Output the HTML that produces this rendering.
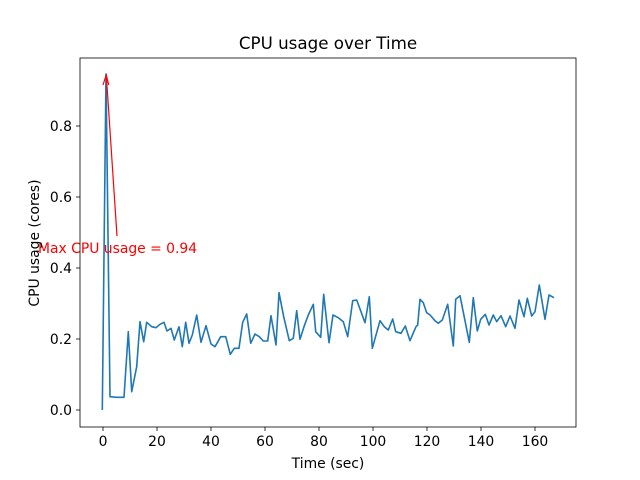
<!DOCTYPE html>
<html><head><meta charset="utf-8"><style>body{margin:0;background:#fff}svg{display:block}</style></head><body>
<svg width="640" height="480" xmlns="http://www.w3.org/2000/svg" font-family="DejaVu Sans, Liberation Sans, sans-serif">
<rect width="640" height="480" fill="#fff"/>
<polyline fill="none" stroke="#1f77b4" stroke-width="1.6" stroke-linejoin="round" points="102.3,410 106,74 110,396.7 116.7,397.3 124,397.3 128.3,331.7 131.7,391.7 136.7,366.7 140,321.7 143.7,341.7 146.7,322.3 151.7,326.7 156,327.7 160,324.3 164,322.3 167,331 171,328.3 174.3,340 179,326.7 182.3,346.7 185.7,322.3 189,343.3 192.3,335 196.7,315 201,342.3 206,325.7 211,344 215,346.7 220.7,336.7 225.7,336.7 230.3,354.3 234.3,348.3 239,348.3 242.7,322.3 246.7,314 250.7,343.3 255,334 259.3,336.7 263.3,341 267.7,341 271,315.7 276,345 279,292.7 283.7,316.7 289.3,340.7 293.3,338.3 296.7,310.7 300,339.3 304,326.7 308.3,315 313.3,304.3 315.7,331.7 320.7,337.3 323.7,294.3 329,342.7 333,315 338.3,317.7 343.3,321.7 347.7,336.7 352.7,300.7 356.7,300 361,311.7 365,322.7 369.3,296.7 372.3,348.3 380,320.7 384.3,326.7 388.3,330 392.7,319 395.7,331.7 401,333.3 405.3,326 410,340.7 416,326.7 417.7,325 420,299.3 423.3,302.7 426.7,312.7 430,315 435,320.7 438.3,323.3 442.3,320 447.7,304.3 453.3,346 455.7,299.3 460,295.7 469.3,342.3 473.3,297.7 477.3,331 480.7,319.3 485.3,314.3 489,325 493.3,315 496.7,321.7 501,315.7 505.7,326.7 510,316 515,328.3 519,300 524,316.7 527.3,298.3 531.7,316 535,311.7 539.3,285 545,319.3 549,295 554,297.7"/>
<line x1="117" y1="236" x2="106.3" y2="75" stroke="red" stroke-width="1.2"/>
<polyline points="103,85 106.2,75 108.8,85" fill="none" stroke="red" stroke-width="1.2"/>
<text x="38" y="253" font-size="13.9" fill="red">Max CPU usage = 0.94</text>
<rect x="80" y="58" width="496" height="369" fill="none" stroke="#000" stroke-width="0.8"/>
<g stroke="#000" stroke-width="0.8">
<line x1="103" y1="427" x2="103" y2="431"/><line x1="157" y1="427" x2="157" y2="431"/><line x1="211" y1="427" x2="211" y2="431"/><line x1="265" y1="427" x2="265" y2="431"/><line x1="319" y1="427" x2="319" y2="431"/><line x1="373" y1="427" x2="373" y2="431"/><line x1="427" y1="427" x2="427" y2="431"/><line x1="481" y1="427" x2="481" y2="431"/><line x1="535" y1="427" x2="535" y2="431"/>
<line x1="76" y1="410" x2="80" y2="410"/><line x1="76" y1="339" x2="80" y2="339"/><line x1="76" y1="268" x2="80" y2="268"/><line x1="76" y1="197" x2="80" y2="197"/><line x1="76" y1="126" x2="80" y2="126"/>
</g>
<g font-size="13.9" text-anchor="middle" fill="#000">
<text x="103" y="446">0</text><text x="157" y="446">20</text><text x="211" y="446">40</text><text x="265" y="446">60</text><text x="319" y="446">80</text><text x="373" y="446">100</text><text x="427" y="446">120</text><text x="481" y="446">140</text><text x="535" y="446">160</text>
</g>
<g font-size="13.9" text-anchor="end" fill="#000">
<text x="72" y="415">0.0</text><text x="72" y="344">0.2</text><text x="72" y="273">0.4</text><text x="72" y="202">0.6</text><text x="72" y="131">0.8</text>
</g>
<text x="328" y="468" font-size="13.9" text-anchor="middle">Time (sec)</text>
<text transform="translate(39,243) rotate(-90)" font-size="13.9" text-anchor="middle">CPU usage (cores)</text>
<text x="328" y="49" font-size="16.7" text-anchor="middle">CPU usage over Time</text>
</svg>
</body></html>
